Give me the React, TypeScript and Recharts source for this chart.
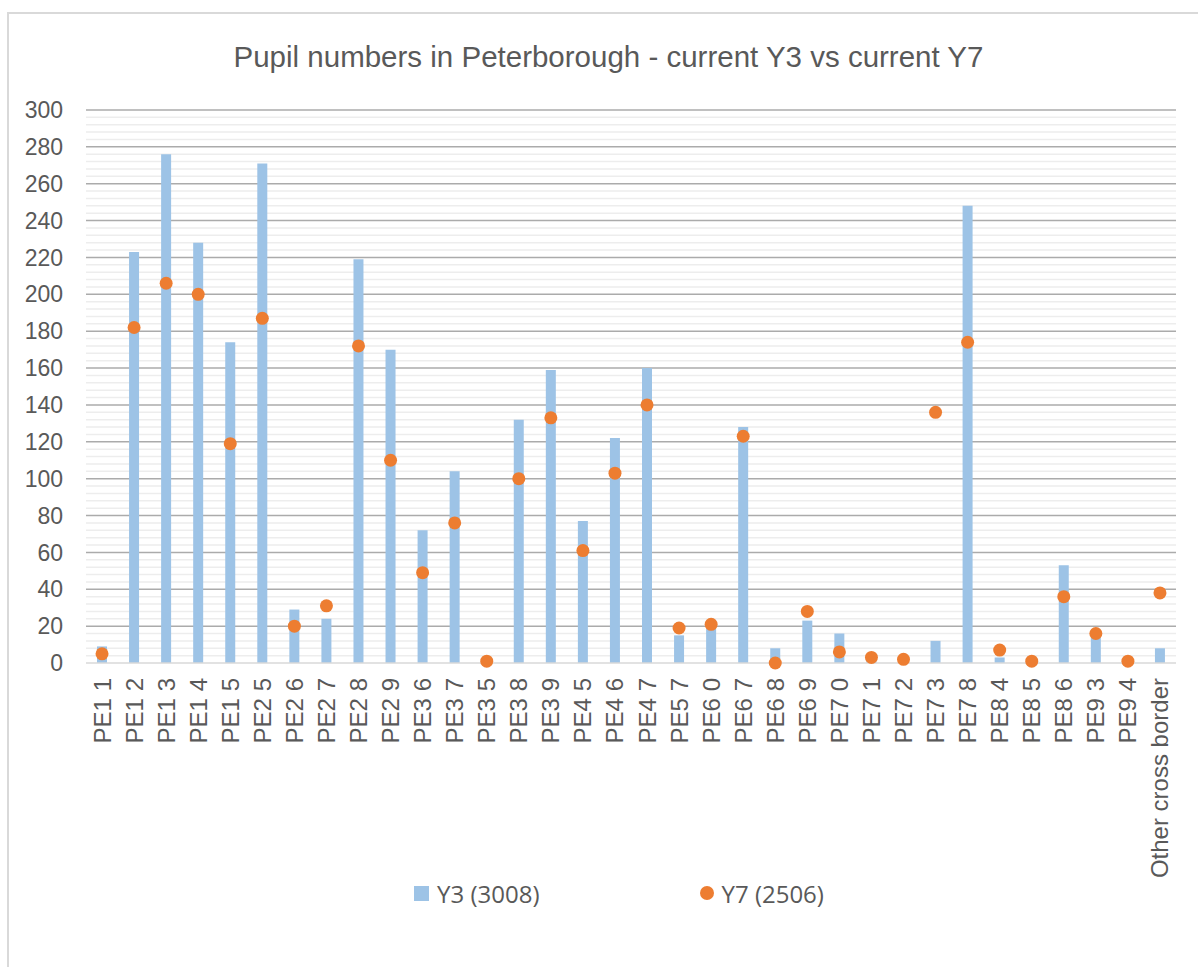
import React from 'react';
import { ComposedChart, Bar, Line, XAxis, YAxis, CartesianGrid, Legend } from 'recharts';

const categories = ['PE1 1','PE1 2','PE1 3','PE1 4','PE1 5','PE2 5','PE2 6','PE2 7','PE2 8','PE2 9','PE3 6','PE3 7','PE3 5','PE3 8','PE3 9','PE4 5','PE4 6','PE4 7','PE5 7','PE6 0','PE6 7','PE6 8','PE6 9','PE7 0','PE7 1','PE7 2','PE7 3','PE7 8','PE8 4','PE8 5','PE8 6','PE9 3','PE9 4','Other cross border'];
const y3Values = [9,223,276,228,174,271,29,24,219,170,72,104,1,132,159,77,122,160,15,19,128,8,23,16,2,2,12,248,3,1,53,17,2,8];
const y7Values = [5,182,206,200,119,187,20,31,172,110,49,76,1,100,133,61,103,140,19,21,123,0,28,6,3,2,136,174,7,1,36,16,1,38];
const majorTicks = [0,20,40,60,80,100,120,140,160,180,200,220,240,260,280,300];
const minorTicks = Array.from({ length: 76 }, (_, i) => i * 4).filter(v => v % 20 !== 0);
const seriesNames = { y3: 'Y3 (3008)', y7: 'Y7 (2506)' };
const title = 'Pupil numbers in Peterborough - current Y3 vs current Y7';

const data = categories.map((c, i) => ({ name: c, y3: y3Values[i], y7: y7Values[i] }));

const TEXT = '#595959';
const FONT = '"Liberation Sans", Arial, sans-serif';

const XTick = (props: any) => {
  const { x, y, payload } = props;
  return (
    <text x={x} y={y} transform={`rotate(-90, ${x}, ${y})`} textAnchor="end" dominantBaseline="central" fill={TEXT} fontSize={24} fontFamily={FONT}>
      {payload.value}
    </text>
  );
};

const LegendContent = () => (
  <div style={{ display: 'flex', justifyContent: 'center', alignItems: 'center', height: 30, paddingLeft: 40, fontFamily: '"Open Sans", sans-serif', fontSize: 24, color: TEXT }}>
    <div style={{ display: 'flex', alignItems: 'center' }}>
      <span style={{ display: 'inline-block', width: 15, height: 15, background: '#9DC3E6', marginRight: 8 }} />
      <span>{seriesNames.y3}</span>
    </div>
    <div style={{ display: 'flex', alignItems: 'center', marginLeft: 160 }}>
      <span style={{ display: 'inline-block', width: 14, height: 14, borderRadius: 7, background: '#ED7D31', marginRight: 8 }} />
      <span>{seriesNames.y7}</span>
    </div>
  </div>
);

export default function App() {
  return (
    <div style={{ position: 'absolute', left: 0, top: 0, width: 1198, height: 967, overflow: 'hidden', background: '#fff' }}>
      <div style={{ position: 'absolute', left: 7, top: 12, width: 1250, height: 1050, border: '2px solid #D9D9D9', boxSizing: 'border-box' }} />
      <div style={{ position: 'absolute', left: 0, top: 38, width: 1217, textAlign: 'center', fontFamily: FONT, fontSize: 29.5, color: TEXT, lineHeight: '38px' }}>
        {title}
      </div>
      <div style={{ position: 'absolute', left: 0, top: 0 }}>
        <ComposedChart width={1198} height={967} data={data} margin={{ top: 110, right: 22, bottom: 59, left: 26 }} style={{ fontFamily: FONT }}>
          <CartesianGrid vertical={false} horizontalValues={minorTicks} stroke="#EDEDED" strokeWidth={1.5} />
          <CartesianGrid vertical={false} horizontalValues={majorTicks.filter(v => v > 0)} stroke="#ABABAB" strokeWidth={1.5} />
          <XAxis dataKey="name" interval={0} height={215} tick={<XTick />} tickLine={false} tickMargin={9} axisLine={{ stroke: '#D9D9D9', strokeWidth: 1.5 }} />
          <YAxis width={60} domain={[0, 300]} ticks={majorTicks} interval={0} axisLine={false} tickLine={false} tickMargin={17} tick={{ fill: TEXT, fontSize: 23, fontFamily: FONT }} />
          <Legend verticalAlign="bottom" wrapperStyle={{ left: 0, width: 1198 }} content={<LegendContent />} />
          <Bar dataKey="y3" name={seriesNames.y3} fill="#9DC3E6" barSize={10} isAnimationActive={false} />
          <Line dataKey="y7" name={seriesNames.y7} stroke="none" strokeWidth={0} dot={{ r: 6.5, fill: '#ED7D31', stroke: 'none' }} activeDot={false} isAnimationActive={false} />
        </ComposedChart>
      </div>
    </div>
  );
}
